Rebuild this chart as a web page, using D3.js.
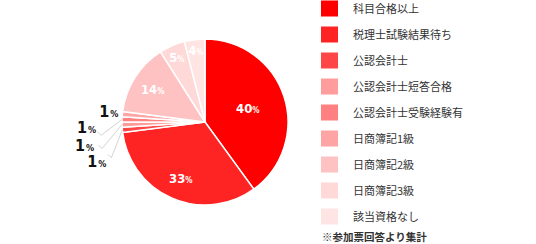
<!DOCTYPE html>
<html>
<head>
<meta charset="utf-8">
<script src="https://cdn.jsdelivr.net/npm/d3@7"></script>
<style>
  body { margin: 0; background: #fff; }
  #chart { width: 536px; height: 244px; }
  .num { font-family: "DejaVu Sans", sans-serif; font-stretch: condensed; font-weight: bold; }
</style>
</head>
<body>
<div id="chart"></div>
<script>
// 資格の内訳（時計回り、上から）
const categories = ['科目合格以上', '税理士試験結果待ち', '公認会計士', '公認会計士短答合格',
    '公認会計士受験経験有', '日商簿記1級', '日商簿記2級', '日商簿記3級', '該当資格なし'];
const values = [40, 33, 1, 1, 1, 1, 14, 5, 4];
const colors = ['#ff0000', '#ff2424', '#ff4646', '#ff9c9c', '#ff8080', '#ffa4a4', '#ffc2c2', '#ffd8d8', '#ffe4e4'];
const note = '※参加票回答より集計';

const width = 536, height = 244;
const cx = 205, cy = 122, radius = 83;

const svg = d3.select('#chart').append('svg')
    .attr('width', width)
    .attr('height', height);

const pie = d3.pie().sort(null).value(d => d);
const arcs = pie(values);
const arc = d3.arc().innerRadius(0).outerRadius(radius);

const g = svg.append('g').attr('transform', `translate(${cx}, ${cy})`);

g.selectAll('path')
    .data(arcs)
    .enter().append('path')
    .attr('d', arc)
    .attr('fill', (d, i) => colors[i])
    .attr('stroke', '#fff')
    .attr('stroke-width', 1.5);

// 大きい区分のラベル（内側）
const insideR = {0: 45, 1: 61, 6: 62, 7: 71, 8: 73};
arcs.forEach((d, i) => {
    if (!(i in insideR)) return;
    const a = (d.startAngle + d.endAngle) / 2;
    const x = Math.sin(a) * insideR[i], y = -Math.cos(a) * insideR[i];
    const t = g.append('text')
        .attr('class', 'num')
        .attr('x', x)
        .attr('y', y + 5)
        .attr('text-anchor', 'middle')
        .attr('fill', '#fff');
    t.append('tspan').style('font-size', '13px').text(d.value);
    t.append('tspan').style('font-size', '8px').text('%');
});

// 小さい区分のラベル（外側、引き出し線付き）
// [文字右端dx, ベースラインdy, 折れ点dx, 折れ点dy] 外周点からの相対位置
const outside = {
    5: [-4, 3, null, null],
    4: [-26, 14, -21, 16],
    3: [-28, 26, -20, 24],
    2: [-16, 37, -11, 28]
};
arcs.forEach((d, i) => {
    if (!(i in outside)) return;
    const a = (d.startAngle + d.endAngle) / 2;
    const ex = Math.sin(a) * radius, ey = -Math.cos(a) * radius;
    const o = outside[i];
    if (o[2] !== null) {
        const bx = ex + o[2], by = ey + o[3];
        g.append('polyline')
            .attr('points', [[ex, ey], [bx, by], [bx - 3.5, by - 3.5]].map(p => p.join(',')).join(' '))
            .attr('fill', 'none')
            .attr('stroke', '#c8c8c8')
            .attr('stroke-width', 0.8);
    }
    const t = g.append('text')
        .attr('class', 'num')
        .attr('x', ex + o[0])
        .attr('y', ey + o[1])
        .attr('text-anchor', 'end')
        .attr('fill', '#111');
    t.append('tspan').style('font-size', '16px').text(d.value);
    t.append('tspan').attr('dx', 1).style('font-size', '9px').text('%');
});

// 凡例
const legend = svg.append('g').attr('transform', 'translate(321, 0)');
const rows = legend.selectAll('g')
    .data(categories)
    .enter().append('g')
    .attr('transform', (d, i) => `translate(0, ${i * 26})`);

rows.append('rect')
    .attr('y', 0.5)
    .attr('width', 17)
    .attr('height', 16)
    .attr('fill', (d, i) => colors[i]);

rows.append('text')
    .attr('x', 32)
    .attr('y', 12.5)
    .attr('fill', '#333')
    .style('font-family', '"Noto Sans CJK JP", sans-serif')
    .style('font-size', '11px')
    .text(d => d);

legend.append('text')
    .attr('x', 1)
    .attr('y', 241)
    .attr('fill', '#333')
    .style('font-family', '"Noto Sans CJK JP", sans-serif')
    .style('font-size', '10.5px')
    .style('font-weight', 'bold')
    .text(note);
</script>
</body>
</html>
